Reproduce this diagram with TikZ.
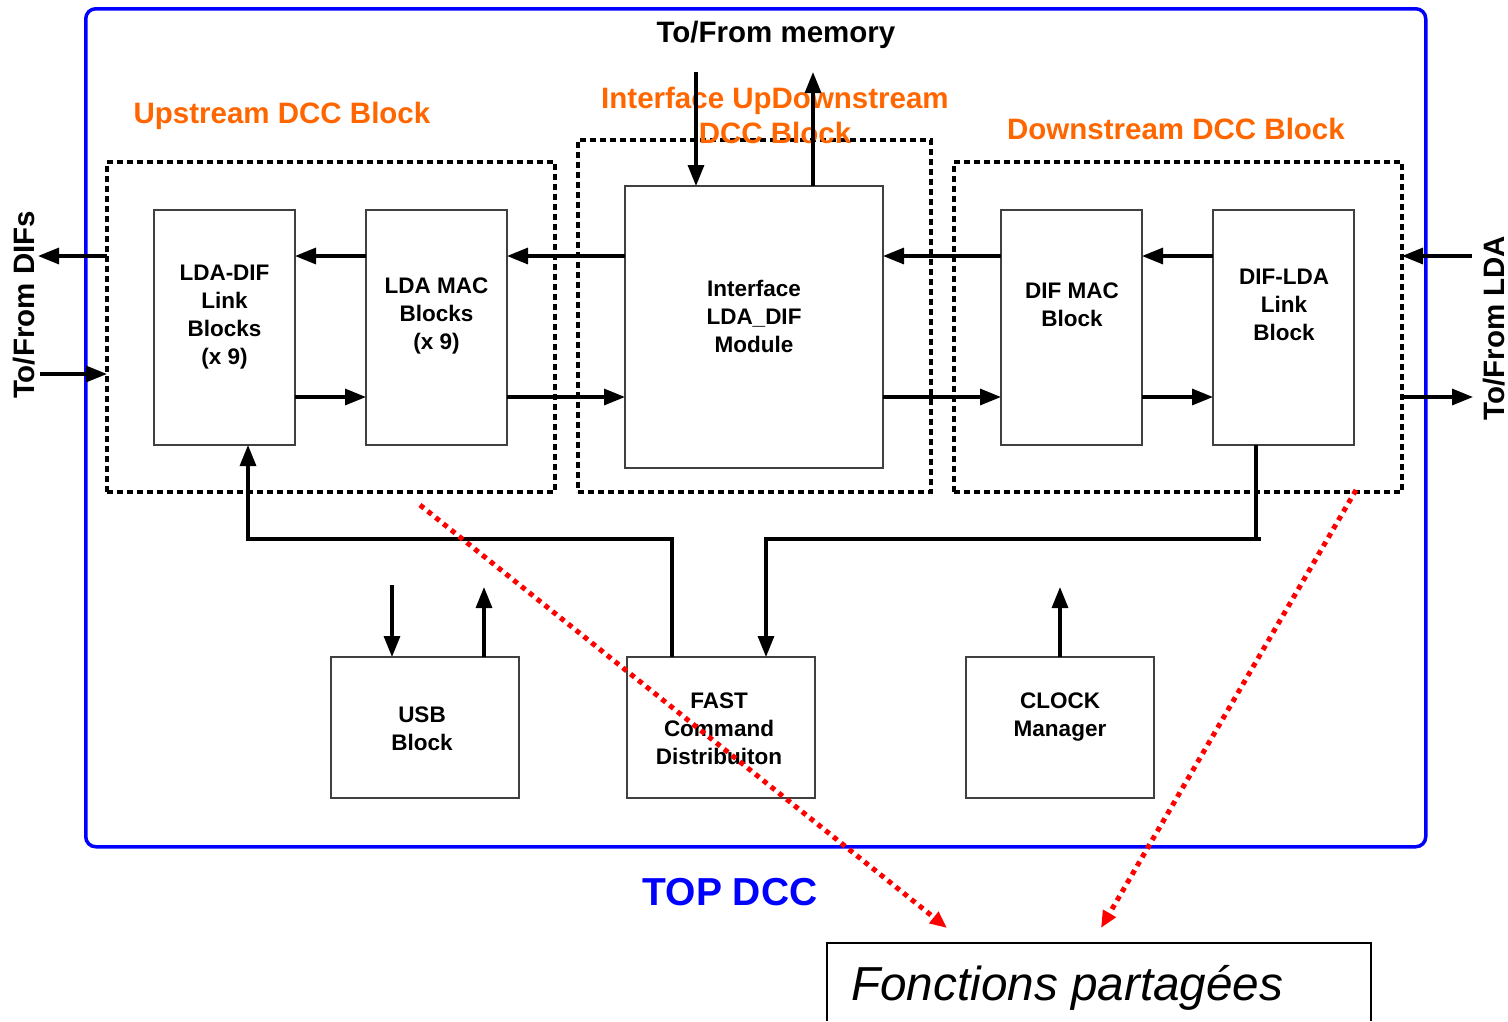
\documentclass[tikz,border=0pt]{standalone}
\usepackage{fontspec}
\setmainfont{Liberation Sans}
\usetikzlibrary{arrows.meta}
\definecolor{dccorange}{HTML}{FF6600}
\begin{document}
\begin{tikzpicture}[x=1pt,y=-1pt,
  blk/.style={draw=black!75, line width=1.3pt, inner sep=0pt, outer sep=0pt, anchor=north west},
  grp/.style={draw=black, line width=3.2pt, dash pattern=on 6pt off 4pt, inner sep=0pt, outer sep=0pt, anchor=north west},
  btxt/.style={font=\fontsize{22.5}{28}\selectfont\bfseries, align=center, inner sep=0pt},
  lbl/.style={font=\fontsize{29.5}{35}\selectfont\bfseries, align=center, inner sep=0pt},
  ttl/.style={lbl, text=dccorange},
  wire/.style={line width=3.2pt},
  arr/.style={wire, -{Triangle[length=21pt,width=16pt]}},
  redarr/.style={draw=red, line width=5pt, dash pattern=on 5pt off 5pt, -{Triangle[length=17pt,width=14pt]}}
]
\useasboundingbox (0,0) rectangle (1508,1021);
% outer box
\node[draw=blue, line width=3.5pt, rounded corners=10pt, inner sep=0pt, minimum width=1340pt, minimum height=838pt, anchor=north west] (top) at (84,7) {};
% group boxes
\node[grp, minimum width=448pt, minimum height=330pt] (upg) at (107,162) {};
\node[grp, minimum width=353pt, minimum height=352pt] (ifg) at (578,140) {};
\node[grp, minimum width=448pt, minimum height=330pt] (dng) at (954,162) {};
% titles
\node[lbl] (mem) at (776,35) {To/From memory};
\node[ttl] (upt) at (282,116) {Upstream DCC Block};
\node[ttl] (ift) at (775,115.5) {Interface UpDownstream\\DCC Block};
\node[ttl] (dnt) at (1176,129) {Downstream DCC Block};
\node[lbl, rotate=90] (difs) at (24,305) {To/From DIFs};
\node[lbl, rotate=90] (ldat) at (1494,328) {To/From LDA};
% blocks
\node[blk, minimum width=141pt, minimum height=235pt] (ldadif) at (154,210) {};
\node[blk, minimum width=141pt, minimum height=235pt] (ldamac) at (366,210) {};
\node[blk, minimum width=258pt, minimum height=282pt] (iface) at (625,186) {};
\node[blk, minimum width=141pt, minimum height=235pt] (difmac) at (1001,210) {};
\node[blk, minimum width=141pt, minimum height=235pt] (diflda) at (1213,210) {};
\node[blk, minimum width=188pt, minimum height=141pt] (usb) at (331,657) {};
\node[blk, minimum width=188pt, minimum height=141pt] (fast) at (627,657) {};
\node[blk, minimum width=188pt, minimum height=141pt] (clock) at (966,657) {};
% block texts
\node[btxt] (t1) at (224.5,317) {LDA-DIF\\Link\\Blocks\\(x 9)};
\node[btxt] (t2) at (436.5,316) {LDA MAC\\Blocks\\(x 9)};
\node[btxt] (t3) at (754,316) {Interface\\LDA\_DIF\\Module};
\node[btxt] (t4) at (1072,305) {DIF MAC\\Block};
\node[btxt] (t5) at (1284,305) {DIF-LDA\\Link\\Block};
\node[btxt] (t6) at (422,729) {USB\\Block};
\node[btxt] (t7) at (719,729) {FAST\\Command\\Distribuiton};
\node[btxt] (t8) at (1060,717) {CLOCK\\Manager};
% helper coordinates
\coordinate (yA) at (0,256);
\coordinate (yB) at (0,397);
\coordinate (lout) at (38,256);
\coordinate (lin) at (40,374);
\coordinate (rin) at (1472,256);
\coordinate (rout) at (1473,397);
\coordinate (memin) at (696,72);
\coordinate (memout) at (813,72);
\coordinate (fbA) at (672,539);
\coordinate (fbC) at (248,0);
\coordinate (dlx) at (1256,0);
\coordinate (br) at (1261,539);
\coordinate (fx) at (766,0);
\coordinate (u1) at (392,585);
\coordinate (u2) at (484,587);
\coordinate (c1) at (1060,587);
% horizontal data paths
\draw[arr] (upg.west |- yA) -- (lout);
\draw[arr] (lin) -- (upg.west |- lin);
\draw[arr] (ldamac.west |- yA) -- (ldadif.east |- yA);
\draw[arr] (ldadif.east |- yB) -- (ldamac.west |- yB);
\draw[arr] (iface.west |- yA) -- (ldamac.east |- yA);
\draw[arr] (ldamac.east |- yB) -- (iface.west |- yB);
\draw[arr] (difmac.west |- yA) -- (iface.east |- yA);
\draw[arr] (iface.east |- yB) -- (difmac.west |- yB);
\draw[arr] (diflda.west |- yA) -- (difmac.east |- yA);
\draw[arr] (difmac.east |- yB) -- (diflda.west |- yB);
\draw[arr] (rin) -- (dng.east |- rin);
\draw[arr] (dng.east |- rout) -- (rout);
% memory
\draw[arr] (memin) -- (memin |- iface.north);
\draw[arr] (iface.north -| memout) -- (memout);
% fast command feedback
\draw[arr] (fast.north -| fbA) -- (fbA) -| (ldadif.south -| fbC);
\draw[wire] (diflda.south -| dlx) -- (dlx |- br) -- (br);
\draw[arr] (br) -| (fast.north -| fx);
% usb & clock
\draw[arr] (u1) -- (usb.north -| u1);
\draw[arr] (usb.north -| u2) -- (u2);
\draw[arr] (clock.north -| c1) -- (c1);
% TOP DCC
\node[font=\fontsize{39}{44}\selectfont\bfseries, text=blue, inner sep=0pt] (topt) at (730,892) {TOP DCC};
% Fonctions partagees
\draw[line width=1.5pt] (827,1021) -- (827,943) -- (1371,943) -- (1371,1021);
\node[font=\fontsize{47.7}{52}\selectfont\itshape, anchor=west, inner sep=0pt] (fp) at (851,988) {Fonctions partagées};
% red dotted arrows
\coordinate (r1s) at (420,505);
\coordinate (r1e) at (947,928);
\coordinate (r2s) at (1356,490);
\coordinate (r2e) at (1101,928);
\draw[redarr] (r1s) -- (r1e);
\draw[redarr] (r2s) -- (r2e);
\end{tikzpicture}
\end{document}
